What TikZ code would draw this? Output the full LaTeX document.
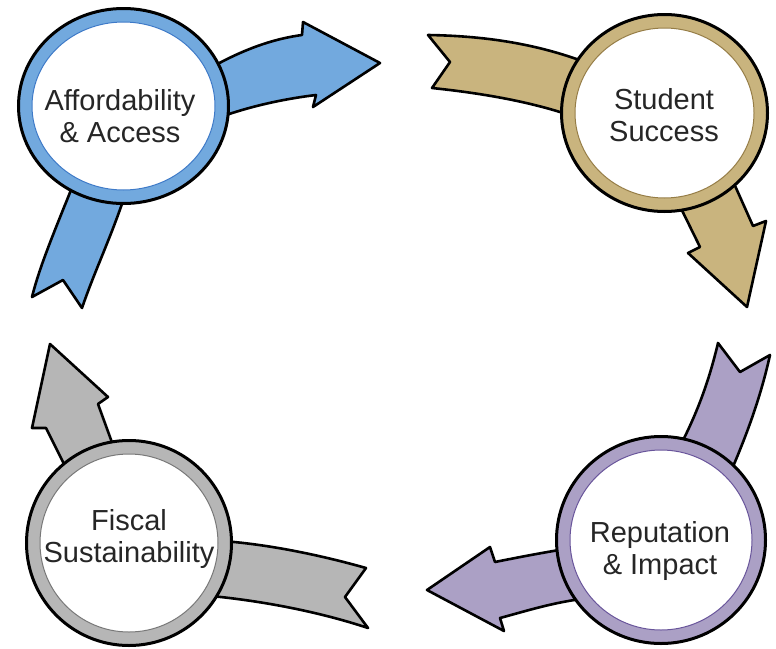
\documentclass[tikz,border=0pt]{standalone}
\usepackage{fontspec}
\setmainfont{Liberation Sans}
\usetikzlibrary{shapes.geometric}
\definecolor{accessband}{RGB}{114,169,222}
\definecolor{accessline}{RGB}{62,122,200}
\definecolor{successband}{RGB}{201,180,126}
\definecolor{successline}{RGB}{150,125,70}
\definecolor{fiscalband}{RGB}{182,182,182}
\definecolor{fiscalline}{RGB}{120,120,120}
\definecolor{impactband}{RGB}{171,160,197}
\definecolor{impactline}{RGB}{105,85,155}

\begin{document}
\begin{tikzpicture}[
    x=1pt, y=-1pt,
    band/.style={fill=#1, draw=black, line width=2.6pt, line join=round},
    ring/.style={ellipse, fill=#1, draw=black, line width=3pt, inner sep=0pt},
    core/.style={ellipse, fill=white, draw=#1, line width=1pt, inner sep=0pt},
    lbl/.style={align=center, text=black!85, font=\fontsize{29}{32.5}\selectfont},
]
\useasboundingbox (0,0) rectangle (776,648);
% blue: affordability
\draw[band=accessband] (75,180) .. controls (55,230) and (40,265) .. (32,297)
    -- (63,280) -- (82,308) .. controls (95,270) and (110,240) .. (125,195) -- cycle;
\draw[band=accessband] (190,80) .. controls (230,55) and (265,40) .. (302,35)
    -- (303,22) -- (380,63) -- (313,107) -- (316,95)
    .. controls (275,100) and (235,110) .. (200,125) -- cycle;
\node[ring=accessband, minimum width=210pt, minimum height=195pt] (access) at (123.5,106) {};
\node[core=accessline, minimum width=183pt, minimum height=168pt] (accessIn) at (access) {};
\node[lbl] (accessTxt) at (120,116) {Affordability\\\& Access};
% gold: student success
\draw[band=successband] (428,35) .. controls (490,36) and (545,45) .. (600,68)
    -- (595,125) .. controls (550,105) and (490,94) .. (432,88) -- (450,62) -- cycle;
\draw[band=successband] (672,190) -- (700,247) -- (688,253) -- (747,307)
    -- (766,221) -- (753,226) -- (728,170) -- cycle;
\node[ring=successband, minimum width=206pt, minimum height=197pt] (success) at (664.5,113) {};
\node[core=successline, minimum width=179pt, minimum height=170pt] (successIn) at (success) {};
\node[lbl] (successTxt) at (664,115) {Student\\Success};
% purple: reputation
\draw[band=impactband] (718,343) .. controls (708,385) and (695,420) .. (670,465)
    -- (725,485) .. controls (745,440) and (760,400) .. (770,355) -- (740,372) -- cycle;
\draw[band=impactband] (427,590) -- (490,547) -- (495,562)
    .. controls (520,557) and (545,552) .. (590,545) -- (600,597)
    .. controls (560,600) and (530,610) .. (500,618) -- (504,631) -- cycle;
\node[ring=impactband, minimum width=209pt, minimum height=207pt] (impact) at (661,540) {};
\node[core=impactline, minimum width=182pt, minimum height=180pt] (impactIn) at (impact) {};
\node[lbl] (impactTxt) at (660,551) {Reputation\\\& Impact};
% gray: fiscal
\draw[band=fiscalband] (205,540) .. controls (260,542) and (320,555) .. (366,568)
    -- (345,597) -- (368,628) .. controls (320,612) and (260,600) .. (200,595) -- cycle;
\draw[band=fiscalband] (50,344) -- (108,397) -- (98,404) -- (122,470)
    -- (72,480) -- (46,428) -- (32,428) -- cycle;
\node[ring=fiscalband, minimum width=205pt, minimum height=205pt] (fiscal) at (129,543) {};
\node[core=fiscalline, minimum width=178pt, minimum height=178pt] (fiscalIn) at (fiscal) {};
\node[lbl] (fiscalTxt) at (129,539) {Fiscal\\Sustainability};
\end{tikzpicture}
\end{document}
